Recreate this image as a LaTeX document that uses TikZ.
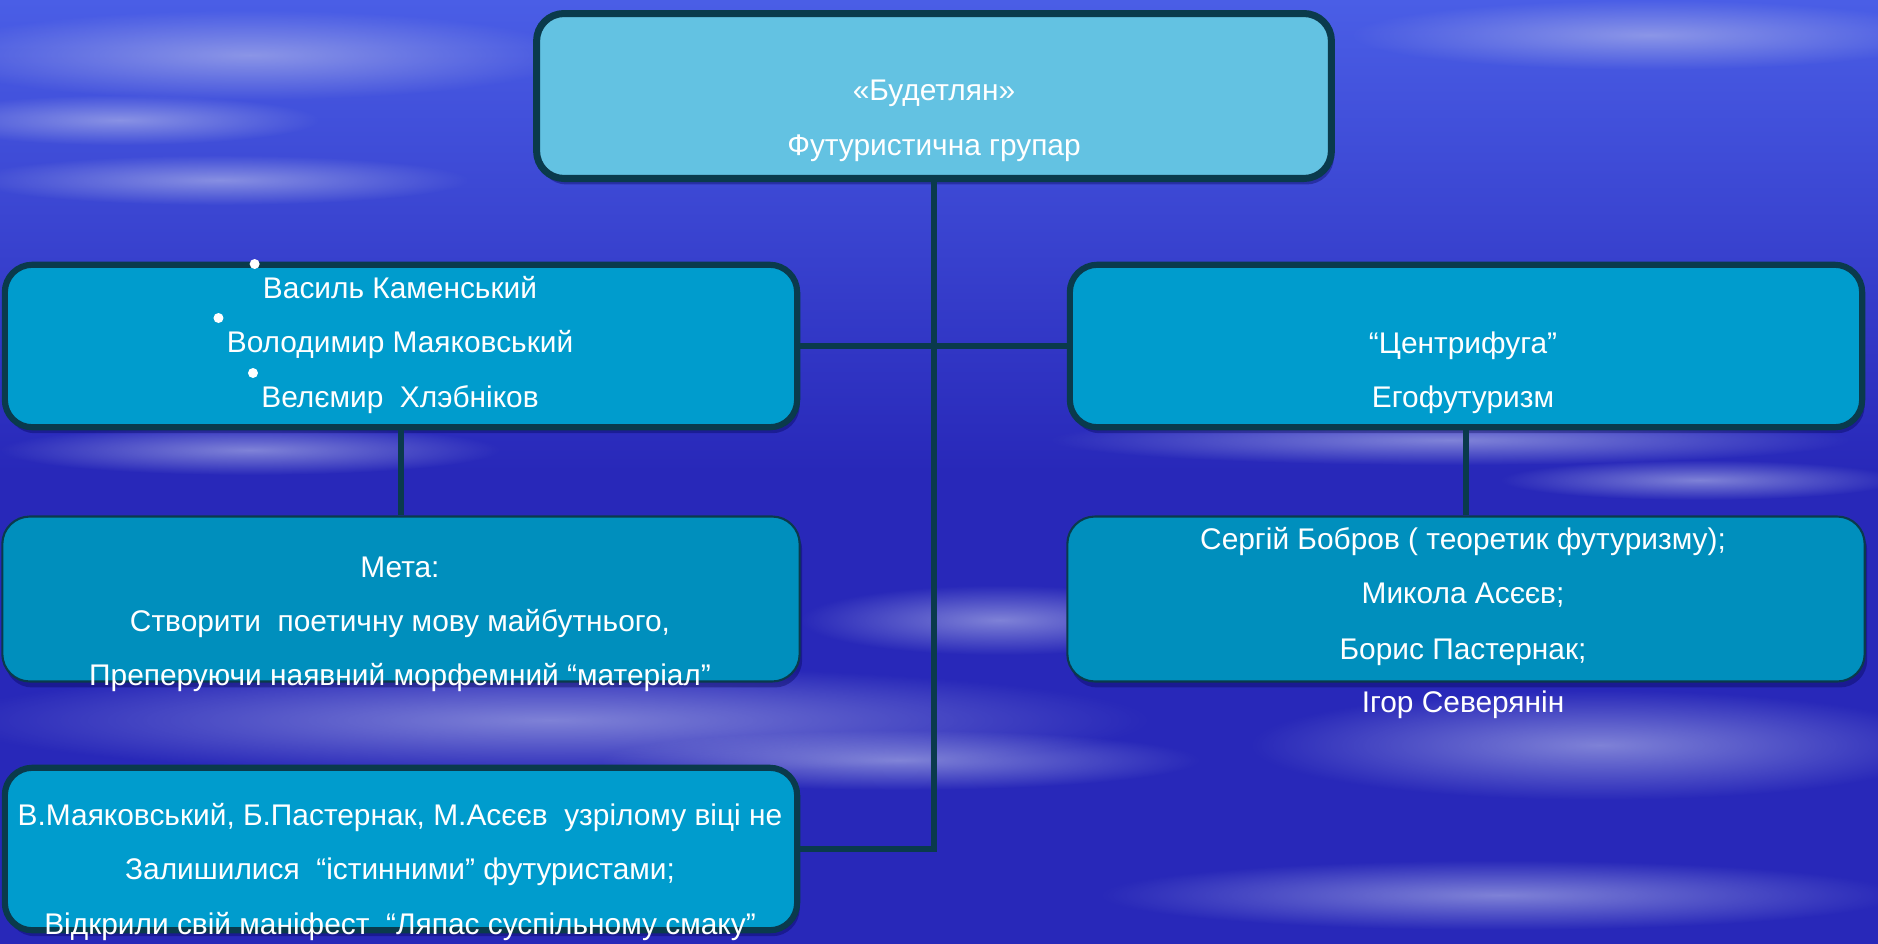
\documentclass[tikz,border=0pt]{standalone}
\usepackage{fontspec}
\setmainfont{Liberation Sans}
\usetikzlibrary{positioning, calc, fadings, shadows}
\definecolor{bgdeep}{RGB}{40,40,185}
\definecolor{bgtop}{RGB}{74,94,230}
\definecolor{cloudlav}{RGB}{185,190,235}
\definecolor{edgeteal}{RGB}{10,58,76}
\definecolor{toplight}{RGB}{99,194,226}
\definecolor{midblue}{RGB}{0,156,205}
\definecolor{lowblue}{RGB}{0,143,189}
\tikzfading[name=cloudfade, inner color=transparent!40, outer color=transparent!100]
\tikzset{
  boxshadow/.style={drop shadow={opacity=0.35, shadow xshift=0.05cm,
    shadow yshift=-0.12cm, fill=black!70!blue}},
  topbox/.style={draw=edgeteal, line width=4pt, rounded corners=0.55cm,
    fill=toplight, minimum width=15.9cm, minimum height=3.3cm, boxshadow},
  namebox/.style={draw=edgeteal, line width=3.5pt, rounded corners=0.55cm,
    fill=midblue, minimum width=15.85cm, minimum height=3.25cm, boxshadow},
  listbox/.style={draw=edgeteal, line width=1.2pt, rounded corners=0.55cm,
    fill=lowblue, minimum width=15.95cm, minimum height=3.3cm, boxshadow},
  txt/.style={text=white, font=\fontsize{17}{20}\selectfont,
    inner sep=0pt, anchor=base},
  link/.style={draw=edgeteal, line width=3.4pt},
  cloud/.style={fill=cloudlav, path fading=cloudfade},
}

\begin{document}
\begin{tikzpicture}[x=0.02cm, y=-0.02cm]
  \useasboundingbox (0,0) rectangle (1878,943);

  % background
  \shade[top color=bgtop, bottom color=bgdeep, middle color=bgdeep] (0,0) rectangle (1878,943);
  \fill[cloud] (250,55) ellipse[x radius=6.5cm, y radius=0.9cm];
  \fill[cloud] (120,120) ellipse[x radius=4cm, y radius=0.5cm];
  \fill[cloud] (220,180) ellipse[x radius=5cm, y radius=0.5cm];
  \fill[cloud] (1650,35) ellipse[x radius=6cm, y radius=0.7cm];
  \fill[cloud] (1450,440) ellipse[x radius=8cm, y radius=0.5cm];
  \fill[cloud] (1700,480) ellipse[x radius=4cm, y radius=0.4cm];
  \fill[cloud] (250,450) ellipse[x radius=5cm, y radius=0.5cm];
  \fill[cloud] (550,720) ellipse[x radius=12cm, y radius=1.1cm];
  \fill[cloud] (900,760) ellipse[x radius=6cm, y radius=0.6cm];
  \fill[cloud] (1600,745) ellipse[x radius=7cm, y radius=1.1cm];
  \fill[cloud] (1500,895) ellipse[x radius=8cm, y radius=0.7cm];
  \fill[cloud] (1000,620) ellipse[x radius=4cm, y radius=0.7cm];

  % boxes
  \node[topbox] (top) at (934,96) {};
  \node[namebox] (names) at (401,346) {};
  \node[namebox] (centri) at (1466,346) {};
  \node[listbox] (goal) at (401,599) {};
  \node[listbox] (members) at (1466,599) {};
  \node[namebox] (late) at (401,849) {};

  % connectors
  \draw[link] (top.south) |- (late.east);
  \draw[link] (names.east) -- (centri.west);
  \draw[link] (names.south) -- (goal.north);
  \draw[link] (centri.south) -- (members.north);

  % texts
  \node[txt] (top1) at (934,100) {«Будетлян»};
  \node[txt] (top2) at (934,155) {Футуристична групар};

  \node[txt] (name1) at (400,298) {Василь Каменський};
  \node[txt] (name2) at (400,352) {Володимир Маяковський};
  \node[txt] (name3) at (400,407) {Велємир~ Хлэбніков};
  \foreach \n in {name1,name2,name3}
    \fill[white] ($(\n.base west)+(-8,-34)$) circle[radius=0.1cm];

  \node[txt] (centri1) at (1463,353) {“Центрифуга”};
  \node[txt] (centri2) at (1463,407) {Егофутуризм};

  \node[txt] (goal1) at (400,577) {Мета:};
  \node[txt] (goal2) at (400,631) {Створити~ поетичну мову майбутнього,};
  \node[txt] (goal3) at (400,685) {Преперуючи наявний морфемний “матеріал”};

  \node[txt] (mem1) at (1463,549) {Сергій Бобров ( теоретик футуризму);};
  \node[txt] (mem2) at (1463,603) {Микола Асєєв;};
  \node[txt] (mem3) at (1463,659) {Борис Пастернак;};
  \node[txt] (mem4) at (1463,712) {Ігор Северянін};

  \node[txt] (late1) at (400,825) {В.Маяковський, Б.Пастернак, М.Асєєв~ узрілому віці не};
  \node[txt] (late2) at (400,879) {Залишилися~ “істинними” футуристами;};
  \node[txt] (late3) at (400,934) {Відкрили свій маніфест~ “Ляпас суспільному смаку”};
\end{tikzpicture}
\end{document}
